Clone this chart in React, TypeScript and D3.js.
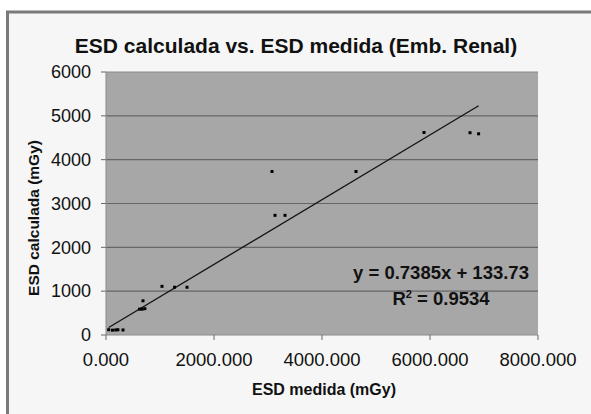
import { scaleLinear, line } from "d3";

const width = 591;
const height = 414;

const xTicks = [0, 2000, 4000, 6000, 8000];
const yTicks = [0, 1000, 2000, 3000, 4000, 5000, 6000];

// ESD medida (mGy)
const measured = [
  50, 120, 180, 220, 315, 620, 670, 720, 685, 1037, 1270, 1500, 3074, 3130,
  3315, 4630, 5889, 6741, 6900,
];
// ESD calculada (mGy)
const calculated = [
  120, 110, 115, 120, 115, 590, 590, 600, 780, 1110, 1090, 1090, 3730, 2730,
  2730, 3730, 4620, 4615, 4590,
];

const slope = 0.7385;
const intercept = 133.73;

const margin = { left: 106, right: 53, top: 72, bottom: 79 };
const font = "'Liberation Sans', Arial, sans-serif";

export default function App() {
  const x = scaleLinear()
    .domain([0, 8000])
    .range([margin.left, width - margin.right]);
  const y = scaleLinear()
    .domain([0, 6000])
    .range([height - margin.bottom, margin.top]);

  const xMin = Math.min(...measured);
  const xMax = Math.max(...measured);
  const trend = line<number>()
    .x((d) => x(d))
    .y((d) => y(slope * d + intercept))([xMin, xMax]);

  const [x0, x1] = x.range();
  const [y0, y1] = y.range();

  return (
    <div style={{ position: "absolute", left: 0, top: 0 }}>
      <svg width={width} height={height} style={{ display: "block" }}>
        <defs>
          <clipPath id="chartArea">
            <rect x={0} y={0} width={580} height={height} />
          </clipPath>
        </defs>
        <rect width={width} height={height} fill="#ffffff" />
        <rect x={6} y={11} width={width + 10} height={height + 10} fill="#f6f6f6" />
        <line x1={7.5} x2={7.5} y1={11} y2={height} stroke="#7a7a7a" strokeWidth={3} />
        <line x1={6} x2={width} y1={12} y2={12} stroke="#7a7a7a" strokeWidth={3} />

        <g clipPath="url(#chartArea)">
          <text
            x={296}
            y={53}
            textAnchor="middle"
            fontFamily={font}
            fontWeight="bold"
            fontSize={21}
            fill="#111"
          >
            ESD calculada vs. ESD medida (Emb. Renal)
          </text>

          <rect x={x0} y={y1} width={x1 - x0} height={y0 - y1} fill="#a7a7a7" />
          {yTicks.map((t) => (
            <g key={t}>
              {t > 0 && t < 6000 && (
                <line x1={x0} x2={x1} y1={y(t)} y2={y(t)} stroke="#666" strokeWidth={1.2} />
              )}
              <line x1={x0 - 5} x2={x0} y1={y(t)} y2={y(t)} stroke="#666" />
              <text
                x={91}
                y={y(t)}
                dy="0.35em"
                textAnchor="end"
                fontFamily={font}
                fontSize={18}
                fill="#111"
              >
                {t}
              </text>
            </g>
          ))}
          <line x1={x0} x2={x1} y1={y1} y2={y1} stroke="#8a8a8a" />
          <line x1={x0} x2={x0} y1={y1} y2={y0} stroke="#8a8a8a" />
          <line x1={x0} x2={x1} y1={y0} y2={y0} stroke="#8a8a8a" />
          {xTicks.map((t) => (
            <g key={t}>
              <line x1={x(t)} x2={x(t)} y1={y0} y2={y0 + 5} stroke="#666" />
              <text
                x={x(t)}
                y={366}
                textAnchor="middle"
                fontFamily={font}
                fontSize={18.5}
                fill="#111"
              >
                {t.toFixed(3)}
              </text>
            </g>
          ))}

          <path d={trend ?? ""} fill="none" stroke="#111" strokeWidth={1.3} />
          {measured.map((m, i) => (
            <rect
              key={i}
              x={x(m) - 1.5}
              y={y(calculated[i]) - 1.5}
              width={3}
              height={3}
              fill="#000"
            />
          ))}

          <text
            x={441}
            y={279}
            textAnchor="middle"
            fontFamily={font}
            fontWeight="bold"
            fontSize={18.5}
            fill="#111"
          >
            y = 0.7385x + 133.73
          </text>
          <text
            x={441}
            y={305}
            textAnchor="middle"
            fontFamily={font}
            fontWeight="bold"
            fontSize={18.5}
            fill="#111"
          >
            R<tspan dy={-7} fontSize={11}>2</tspan>
            <tspan dy={7}> = 0.9534</tspan>
          </text>

          <text
            x={324}
            y={395}
            textAnchor="middle"
            fontFamily={font}
            fontWeight="bold"
            fontSize={16}
            fill="#111"
          >
            ESD medida (mGy)
          </text>
          <text
            transform={`translate(39,218) rotate(-90)`}
            textAnchor="middle"
            fontFamily={font}
            fontWeight="bold"
            fontSize={15.5}
            fill="#111"
          >
            ESD calculada (mGy)
          </text>
        </g>
      </svg>
    </div>
  );
}
